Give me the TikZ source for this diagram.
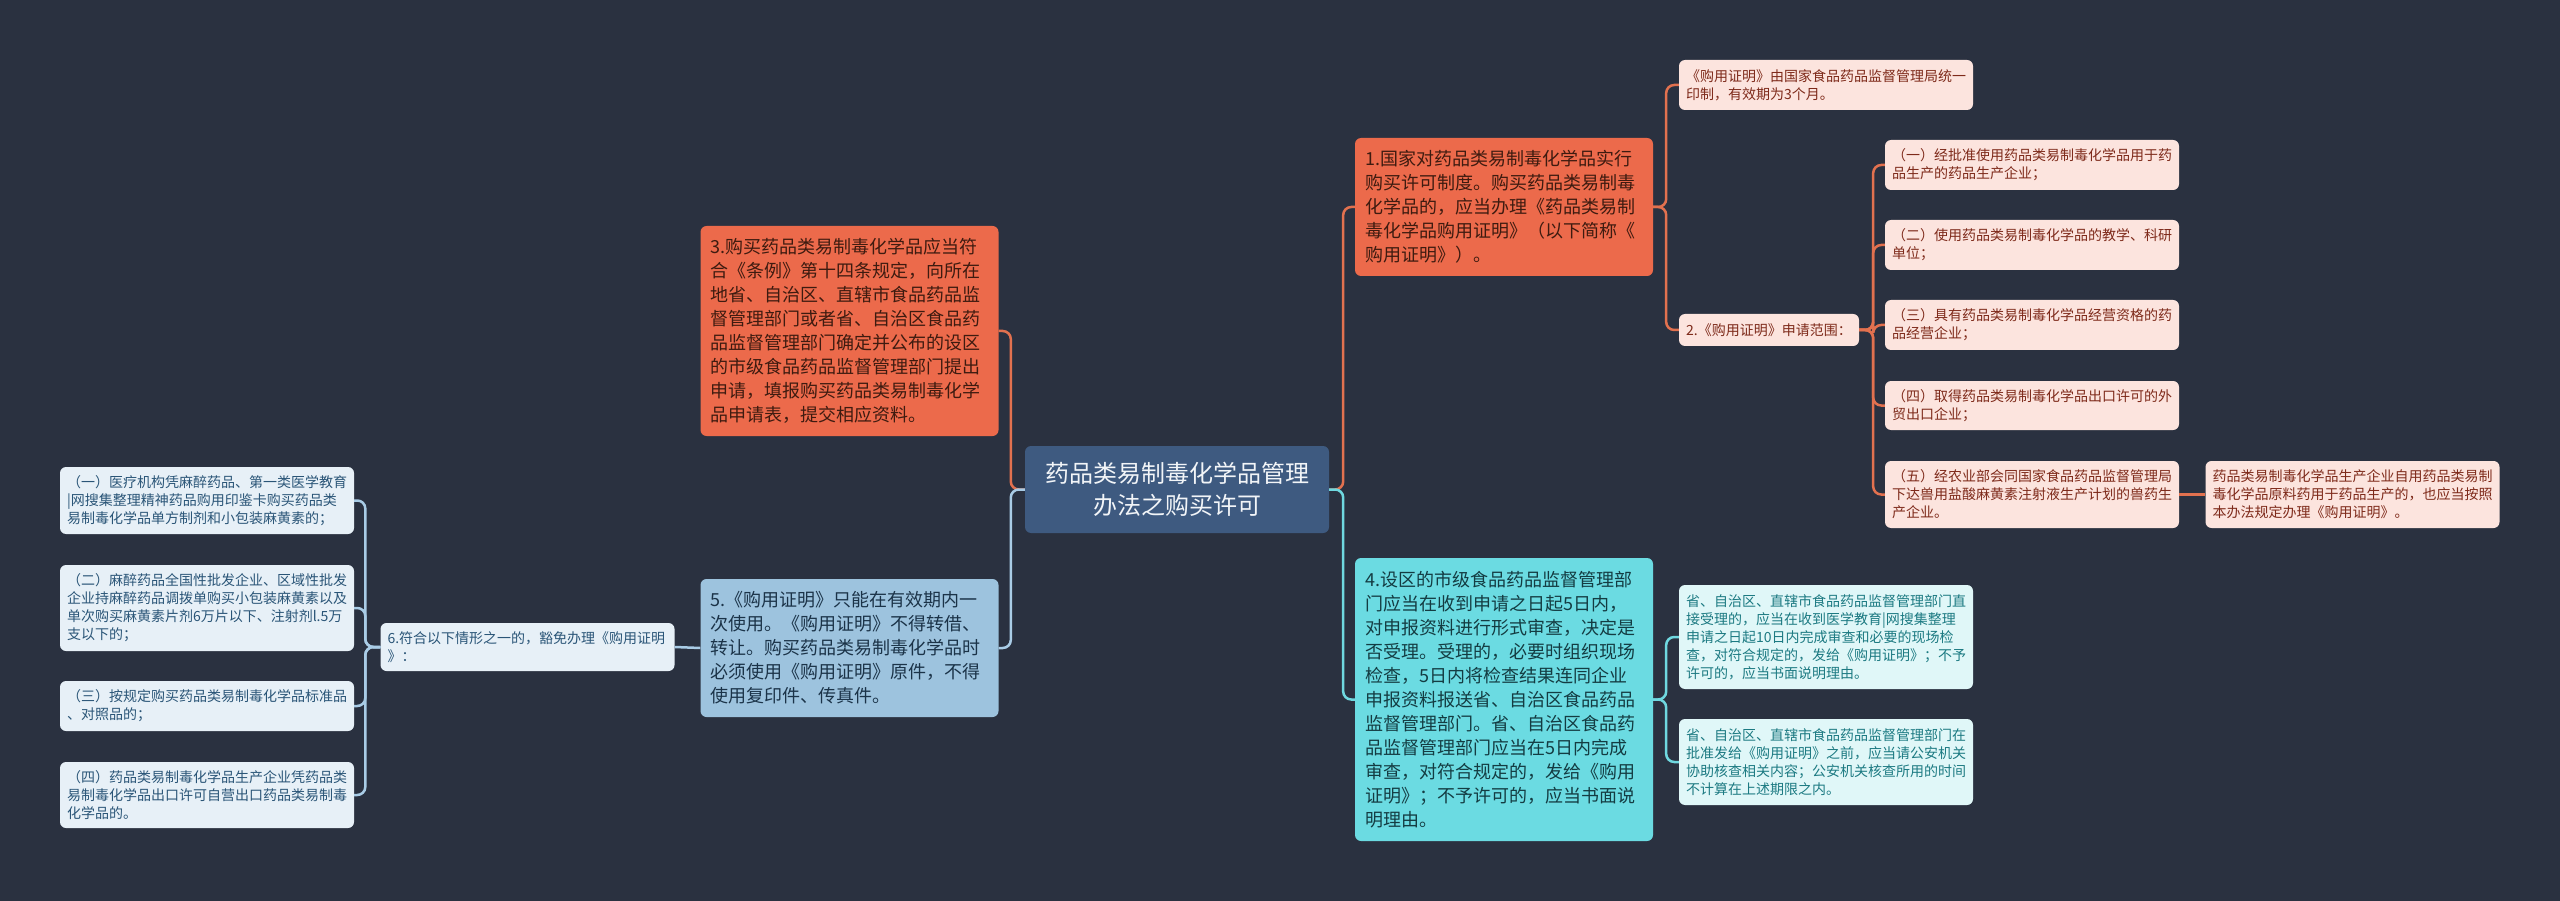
\documentclass[tikz,border=0pt]{standalone}
\usepackage{fontspec}
\newfontfamily\cjk{Noto Sans CJK SC}
\definecolor{bg}{HTML}{2A3140}
\definecolor{ctrF}{HTML}{3E5A80}
\definecolor{ctrT}{HTML}{F2F5F8}
\definecolor{orF}{HTML}{EC6A4B}
\definecolor{orT}{HTML}{3E1B10}
\definecolor{orL}{HTML}{E2714F}
\definecolor{pkF}{HTML}{FCE4DE}
\definecolor{pkT}{HTML}{7E2A1A}
\definecolor{cyF}{HTML}{6BDBE2}
\definecolor{cyT}{HTML}{143C42}
\definecolor{cyL}{HTML}{6FD8E0}
\definecolor{lcF}{HTML}{E0F7F8}
\definecolor{lcT}{HTML}{1C7A82}
\definecolor{blF}{HTML}{9DC3DE}
\definecolor{blT}{HTML}{1B3348}
\definecolor{blL}{HTML}{A9CCE6}
\definecolor{lbF}{HTML}{E7F0F7}
\definecolor{lbT}{HTML}{2A5577}
\begin{document}
\begin{tikzpicture}[x=1pt,y=-1pt,
  box/.style={rounded corners=6pt, inner ysep=0pt, align=left},
  mainbox/.style={box, font=\cjk\fontsize{18}{24}\selectfont, text width=278pt, inner xsep=10pt},
  smallbox/.style={box, font=\cjk\fontsize{14}{18}\selectfont, text width=280pt, inner xsep=7pt},
  ctrbox/.style={box, align=center, fill=ctrF, text=ctrT, font=\cjk\fontsize{24}{32}\selectfont, minimum width=304pt, minimum height=87pt},
  orbox/.style={mainbox, fill=orF, text=orT},
  pkbox/.style={smallbox, fill=pkF, text=pkT},
  cybox/.style={mainbox, fill=cyF, text=cyT},
  lcbox/.style={smallbox, fill=lcF, text=lcT},
  blbox/.style={mainbox, fill=blF, text=blT},
  lbbox/.style={smallbox, fill=lbF, text=lbT},
  conn/.style={line width=2.5pt, rounded corners=8pt},
]
\fill[bg] (0,0) rectangle (2560,901);
\useasboundingbox (0,0) rectangle (2560,901);

% center
\node[ctrbox] (ctr) at (1177,489.5) {药品类易制毒化学品管理\\办法之购买许可};

% right upper branch
\node[orbox, minimum height=138pt] (n1) at (1504,207) {1.国家对药品类易制毒化学品实行\\购买许可制度。购买药品类易制毒\\化学品的，应当办理《药品类易制\\毒化学品购用证明》（以下简称《\\购用证明》）。};
\node[pkbox, minimum height=50pt] (note) at (1826,85) {《购用证明》由国家食品药品监督管理局统一\\印制，有效期为3个月。};
\node[box, fill=pkF, text=pkT, font=\cjk\fontsize{14}{18}\selectfont, inner xsep=7pt, minimum width=180pt, minimum height=32pt] (n2) at (1769,330) {2.《购用证明》申请范围：};
\node[pkbox, minimum height=50pt] (c1) at (2032,165) {（一）经批准使用药品类易制毒化学品用于药\\品生产的药品生产企业；};
\node[pkbox, minimum height=50pt] (c2) at (2032,245) {（二）使用药品类易制毒化学品的教学、科研\\单位；};
\node[pkbox, minimum height=50pt] (c3) at (2032,325) {（三）具有药品类易制毒化学品经营资格的药\\品经营企业；};
\node[pkbox, minimum height=49pt] (c4) at (2032,405.5) {（四）取得药品类易制毒化学品出口许可的外\\贸出口企业；};
\node[pkbox, minimum height=67pt] (c5) at (2032,494.5) {（五）经农业部会同国家食品药品监督管理局\\下达兽用盐酸麻黄素注射液生产计划的兽药生\\产企业。};
\node[pkbox, minimum height=67pt] (fr) at (2352.5,494.5) {药品类易制毒化学品生产企业自用药品类易制\\毒化学品原料药用于药品生产的，也应当按照\\本办法规定办理《购用证明》。};

% right lower branch
\node[cybox, minimum height=283pt] (n4) at (1504,699.5) {4.设区的市级食品药品监督管理部\\门应当在收到申请之日起5日内，\\对申报资料进行形式审查，决定是\\否受理。受理的，必要时组织现场\\检查，5日内将检查结果连同企业\\申报资料报送省、自治区食品药品\\监督管理部门。省、自治区食品药\\品监督管理部门应当在5日内完成\\审查，对符合规定的，发给《购用\\证明》；不予许可的，应当书面说\\明理由。};
\node[lcbox, minimum height=104pt] (d1) at (1826,637) {省、自治区、直辖市食品药品监督管理部门直\\接受理的，应当在收到医学教育|网搜集整理\\申请之日起10日内完成审查和必要的现场检\\查，对符合规定的，发给《购用证明》；不予\\许可的，应当书面说明理由。};
\node[lcbox, minimum height=86pt] (d2) at (1826,762) {省、自治区、直辖市食品药品监督管理部门在\\批准发给《购用证明》之前，应当请公安机关\\协助核查相关内容；公安机关核查所用的时间\\不计算在上述期限之内。};

% left upper
\node[orbox, minimum height=210pt] (n3) at (849.5,331) {3.购买药品类易制毒化学品应当符\\合《条例》第十四条规定，向所在\\地省、自治区、直辖市食品药品监\\督管理部门或者省、自治区食品药\\品监督管理部门确定并公布的设区\\的市级食品药品监督管理部门提出\\申请，填报购买药品类易制毒化学\\品申请表，提交相应资料。};

% left lower
\node[blbox, minimum height=138pt] (n5) at (849.5,648) {5.《购用证明》只能在有效期内一\\次使用。《购用证明》不得转借、\\转让。购买药品类易制毒化学品时\\必须使用《购用证明》原件，不得\\使用复印件、传真件。};
\node[lbbox, minimum height=48pt] (n6) at (527.5,647) {6.符合以下情形之一的，豁免办理《购用证明\\》：};
\node[lbbox, minimum height=67pt] (e1) at (207,500.5) {（一）医疗机构凭麻醉药品、第一类医学教育\\|网搜集整理精神药品购用印鉴卡购买药品类\\易制毒化学品单方制剂和小包装麻黄素的；};
\node[lbbox, minimum height=86pt] (e2) at (207,608) {（二）麻醉药品全国性批发企业、区域性批发\\企业持麻醉药品调拨单购买小包装麻黄素以及\\单次购买麻黄素片剂6万片以下、注射剂l.5万\\支以下的；};
\node[lbbox, minimum height=50pt] (e3) at (207,706) {（三）按规定购买药品类易制毒化学品标准品\\、对照品的；};
\node[lbbox, minimum height=66pt] (e4) at (207,795) {（四）药品类易制毒化学品生产企业凭药品类\\易制毒化学品出口许可自营出口药品类易制毒\\化学品的。};

% connectors
\draw[conn, orL] (ctr.east) -- ++(14,0) |- (n1.west);
\draw[conn, cyL] (ctr.east) -- ++(14,0) |- (n4.west);
\draw[conn, orL] (ctr.west) -- ++(-14,0) |- (n3.east);
\draw[conn, blL] (ctr.west) -- ++(-14,0) |- (n5.east);

\draw[conn, orL] (n1.east) -- ++(13,0) |- (note.west);
\draw[conn, orL] (n1.east) -- ++(13,0) |- (n2.west);
\foreach \c in {c1,c2,c3,c4,c5}
  \draw[conn, orL] (n2.east) -- ++(14,0) |- (\c.west);
\draw[conn, orL] (c5.east) -- (fr.west);

\draw[conn, cyL] (n4.east) -- ++(13,0) |- (d1.west);
\draw[conn, cyL] (n4.east) -- ++(13,0) |- (d2.west);

\draw[conn, blL] (n5.west) -- (n6.east);
\foreach \e in {e1,e2,e3,e4}
  \draw[conn, blL] (n6.west) -- ++(-15,0) |- (\e.east);
\end{tikzpicture}
\end{document}
